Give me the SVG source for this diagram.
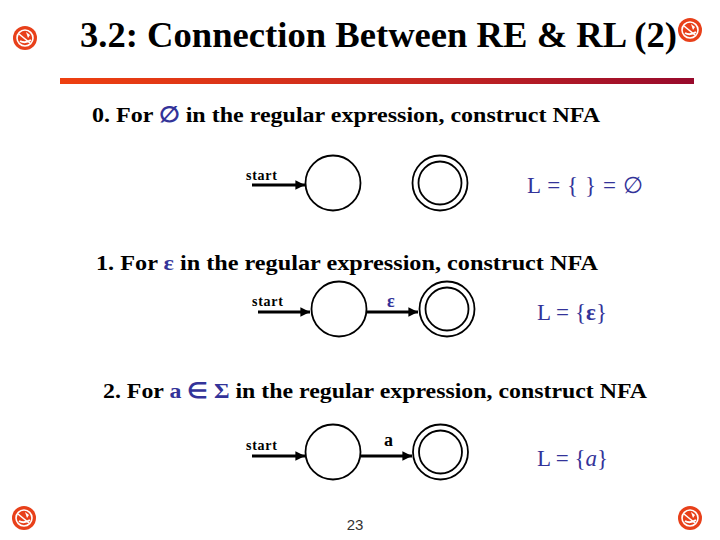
<svg xmlns="http://www.w3.org/2000/svg" width="720" height="540" viewBox="0 0 720 540">
<style>
.hd{font-family:"Liberation Serif","Times New Roman",serif;font-weight:bold;font-size:22px;fill:#000}
.bl{fill:#333399}
.lab{font-family:"Liberation Serif","Times New Roman",serif;font-size:23px;fill:#333399}
.st{font-family:"Liberation Serif","Times New Roman",serif;font-weight:bold;font-size:14px;fill:#000}
.tr{font-family:"Liberation Serif","Times New Roman",serif;font-weight:bold;font-size:18px}
.node{fill:#fff;stroke:#000;stroke-width:1.8}
.edge{stroke:#000;stroke-width:3;fill:none}
</style>
<defs>
<linearGradient id="bar" x1="0" y1="0" x2="1" y2="0">
<stop offset="0" stop-color="#ee4010"/>
<stop offset="0.55" stop-color="#c82820"/>
<stop offset="1" stop-color="#980a2c"/>
</linearGradient>
<marker id="ah" viewBox="0 0 10 10" refX="10" refY="5" markerWidth="3.2" markerHeight="3.2" orient="auto" markerUnits="strokeWidth">
<path d="M0,0 L10,5 L0,10 z" fill="#000"/>
</marker>
<g id="icon">
<circle r="12" fill="#e8401a"/>
<circle r="8" fill="none" stroke="#fff" stroke-width="1.6"/>
<path d="M-6,-4 L5,5" stroke="#fff" stroke-width="1.6"/>
<path d="M-5,3 Q0,6 6,2" stroke="#fff" stroke-width="2" fill="none"/>
<path d="M1,-6 L5,-3 L3,0 z" fill="#fff"/>
</g>
</defs>
<rect width="720" height="540" fill="#fff"/>

<g id="decor">
<use href="#icon" x="25" y="38"/>
<use href="#icon" x="690" y="30"/>
<use href="#icon" x="24" y="518"/>
<use href="#icon" x="690" y="518"/>
<rect x="60" y="78" width="634" height="6" fill="url(#bar)"/>
</g>

<text id="title" x="80" y="47" font-family="Liberation Serif, Times New Roman, serif" font-weight="bold" font-size="35" fill="#000" textLength="597" lengthAdjust="spacingAndGlyphs">3.2:  Connection Between RE &amp; RL (2)</text>

<g id="headings">
<text class="hd" x="92" y="122" textLength="508" lengthAdjust="spacingAndGlyphs">0. For <tspan class="bl">∅</tspan> in the regular expression, construct NFA</text>
<text class="hd" x="96" y="270" textLength="502" lengthAdjust="spacingAndGlyphs">1. For <tspan class="bl">ε</tspan> in the regular expression, construct NFA</text>
<text class="hd" x="103" y="398" textLength="544" lengthAdjust="spacingAndGlyphs">2. For <tspan class="bl">a ∈ Σ</tspan> in the regular expression, construct NFA</text>
</g>

<g id="connectors">
<line class="edge" x1="252" y1="185" x2="305" y2="185" marker-end="url(#ah)"/>
<line class="edge" x1="258" y1="312" x2="310" y2="312" marker-end="url(#ah)"/>
<line class="edge" x1="366" y1="312" x2="418" y2="312" marker-end="url(#ah)"/>
<line class="edge" x1="252" y1="456" x2="305" y2="456" marker-end="url(#ah)"/>
<line class="edge" x1="361" y1="456" x2="412" y2="456" marker-end="url(#ah)"/>
</g>

<g id="labels">
<text class="st" x="246" y="180" textLength="31">start</text>
<text class="st" x="252" y="306" textLength="31">start</text>
<text class="st" x="246" y="450" textLength="31">start</text>
<text class="tr" x="387" y="307" fill="#333399">ε</text>
<text class="tr" x="384" y="446" fill="#000">a</text>
</g>

<g id="q0a"><circle class="node" cx="333" cy="183" r="27.5"/></g>
<g id="q1a"><circle class="node" cx="440" cy="183" r="27.5"/><circle class="node" cx="440" cy="183" r="21.5"/></g>
<g id="q0b"><circle class="node" cx="339" cy="309" r="27.5"/></g>
<g id="q1b"><circle class="node" cx="447" cy="309" r="27.5"/><circle class="node" cx="447" cy="309" r="21.5"/></g>
<g id="q0c"><circle class="node" cx="333" cy="452" r="27.5"/></g>
<g id="q1c"><circle class="node" cx="440.5" cy="452" r="27.5"/><circle class="node" cx="440.5" cy="452" r="21.5"/></g>

<g id="results">
<text class="lab" x="527" y="193" textLength="116">L = { } = ∅</text>
<text class="lab" x="537" y="320" textLength="70">L = {<tspan font-weight="bold">ε</tspan>}</text>
<text class="lab" x="537" y="466" textLength="71">L = {<tspan font-style="italic">a</tspan>}</text>
</g>

<text id="page" x="355" y="530" text-anchor="middle" font-family="Liberation Sans, Arial, sans-serif" font-size="15" fill="#333">23</text>
</svg>
